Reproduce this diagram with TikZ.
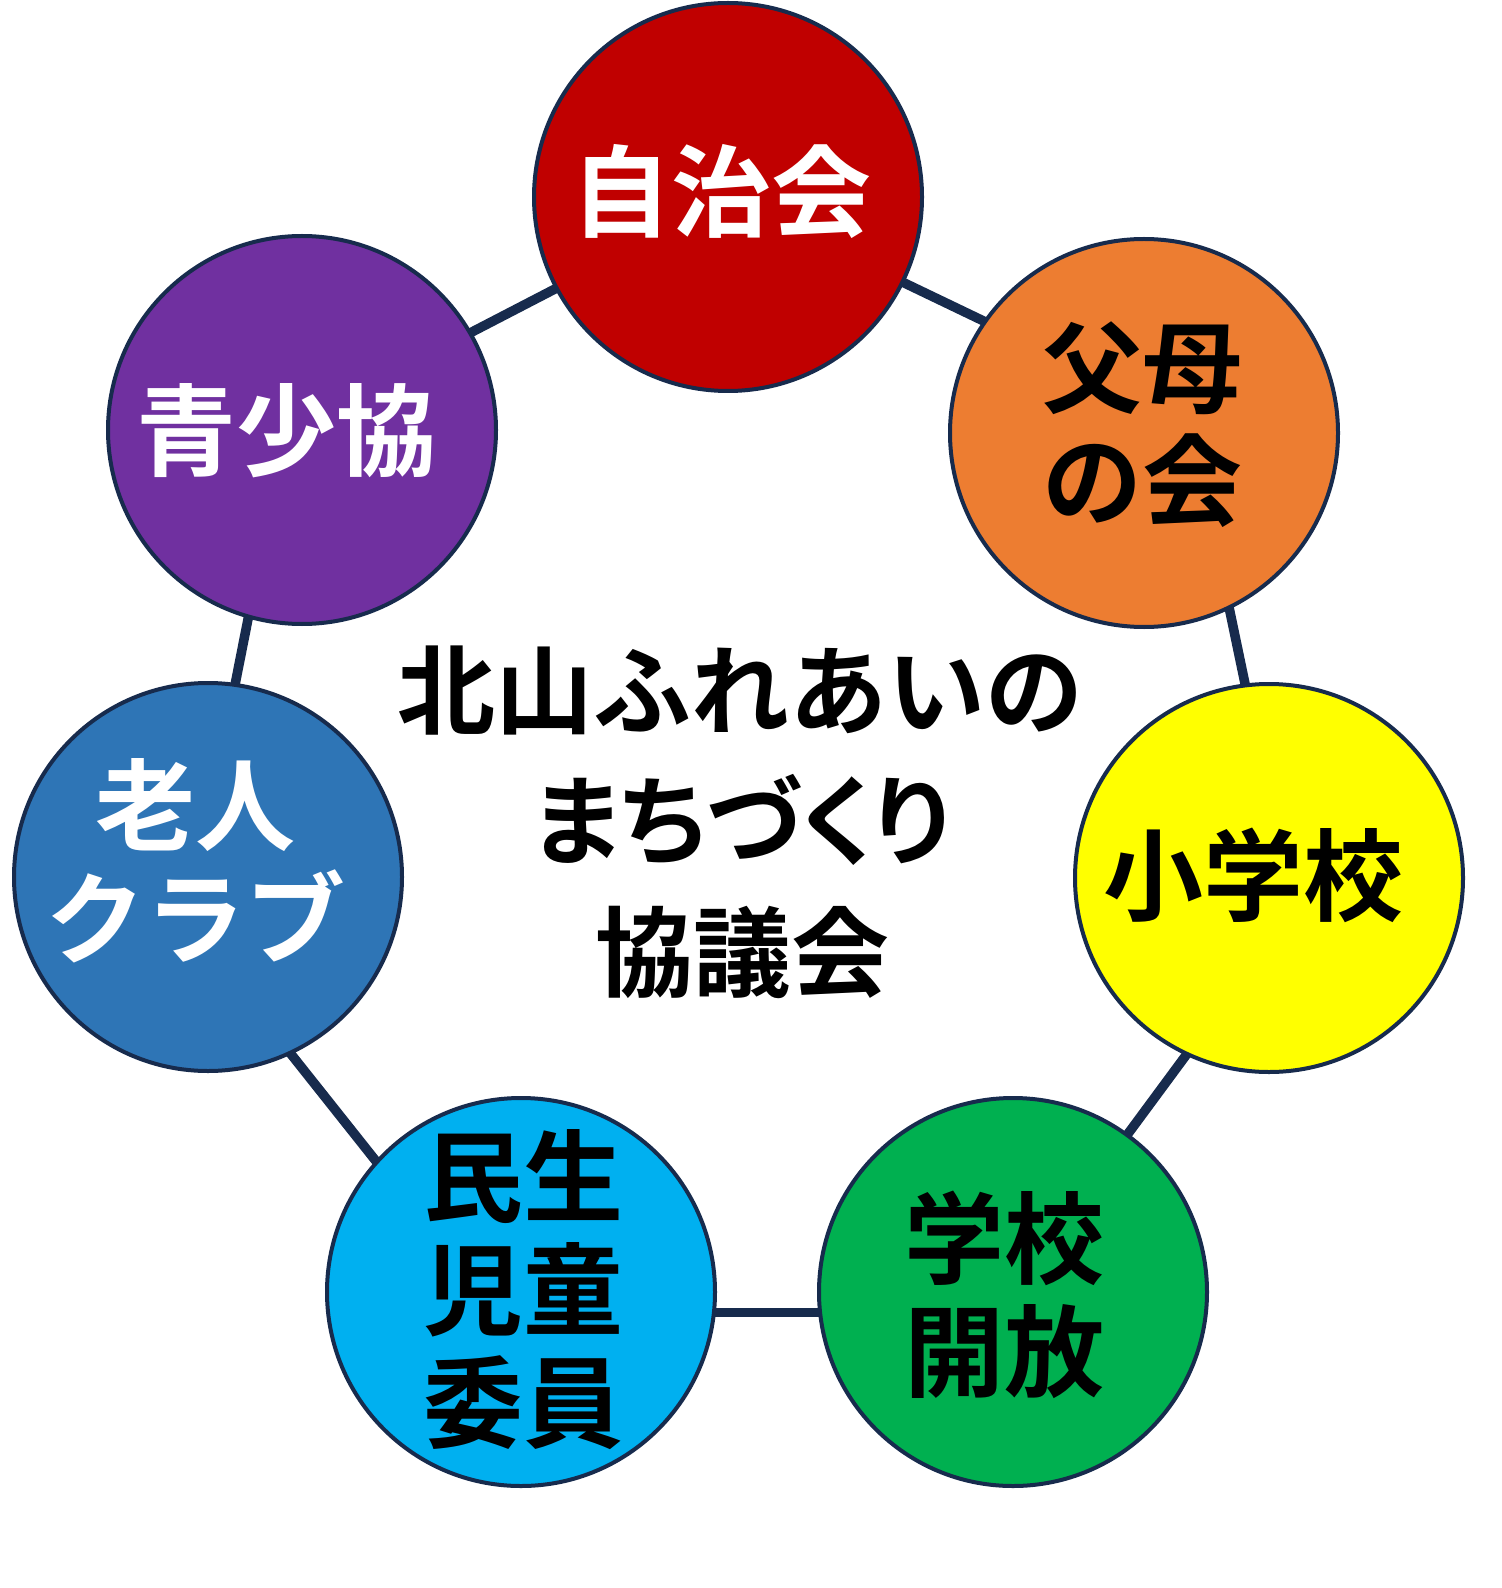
\documentclass[tikz,border=0pt]{standalone}
\usepackage{fontspec}
\newfontfamily\jp{Noto Sans CJK JP}[UprightFont=* Bold]
\newfontfamily\jpp{Noto Sans CJK JP}[UprightFont=* Bold,RawFeature=+palt]
\definecolor{navy}{RGB}{23,43,77}
\definecolor{cred}{RGB}{192,0,0}
\definecolor{corange}{RGB}{237,125,49}
\definecolor{cyellow}{RGB}{255,255,0}
\definecolor{cgreen}{RGB}{0,176,80}
\definecolor{ccyan}{RGB}{0,176,240}
\definecolor{cblue}{RGB}{46,117,182}
\definecolor{cpurple}{RGB}{112,48,160}
\begin{document}
\begin{tikzpicture}[x=0.5pt,y=-0.5pt,
  orb/.style={circle,draw=navy,line width=2pt,minimum size=194pt,inner sep=0pt,outer sep=0pt},
  lbl/.style={font=\jp\fontsize{50pt}{56.5pt}\selectfont,align=center,inner sep=0pt},
  ttl/.style={font=\jp\fontsize{49pt}{60pt}\selectfont,inner sep=0pt},
  ttlp/.style={font=\jpp\fontsize{49pt}{60pt}\selectfont,inner sep=0pt},
  link/.style={draw=navy,line width=4.75pt}]
\useasboundingbox (0,0) rectangle (1502,1588);
\fill[white] (0,0) rectangle (1502,1588);
% circles
\node[orb,fill=cred]    (A) at (728,197)  {};
\node[orb,fill=corange] (B) at (1144,433) {};
\node[orb,fill=cyellow] (C) at (1269,878) {};
\node[orb,fill=cgreen]  (D) at (1013,1292) {};
\node[orb,fill=ccyan]   (E) at (521,1292) {};
\node[orb,fill=cblue]   (F) at (208,877)  {};
\node[orb,fill=cpurple] (G) at (302,430)  {};
% connectors
\draw[link] (A.-26) -- (B.145);
\draw[link] (B.-64.6) -- (C.97.9);
\draw[link] (C.245.4) -- (D.54.5);
\draw[link] (D.186.1) -- (E.-6.1);
\draw[link] (E.138.5) -- (F.-65.3);
\draw[link] (F.82.7) -- (G.254.1);
\draw[link] (G.30.8) -- (A.208.5);
% circle labels
\node[lbl,text=white] (tA) at (721,192)  {自治会};
\node[lbl,text=black] (tB) at (1142,425) {父母\\の会};
\node[lbl,text=black] (tC) at (1253,875) {小学校};
\node[lbl,text=black] (tD) at (1004,1295) {学校\\開放};
\node[lbl,text=black] (tE) at (523,1290) {民生\\児童\\委員};
\node[lbl,text=white] (tF) at (195,861)  {老人\\クラブ};
\node[lbl,text=white] (tG) at (286,431)  {青少協};
% centre title
\node[ttl]  (t1) at (740,691) {北山ふれあいの};
\node[ttlp] (t2) at (742,820) {まちづくり};
\node[ttl]  (t3) at (742,952) {協議会};
\end{tikzpicture}
\end{document}
